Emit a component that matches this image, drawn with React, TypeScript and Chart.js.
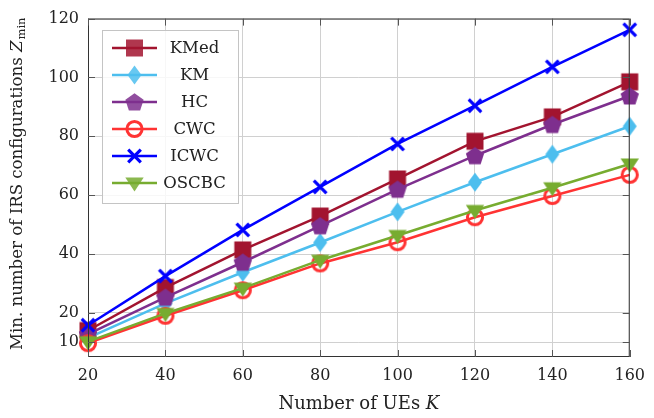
import React, { useEffect, useRef } from "react";
import { Chart, registerables } from "chart.js";

Chart.register(...registerables);

// ---------------- data ----------------
const ueCounts = [20, 40, 60, 80, 100, 120, 140, 160];
const seriesNames = ["KMed", "KM", "HC", "CWC", "ICWC", "OSCBC"];
const kmedValues = [14.0, 28.6, 41.4, 52.9, 65.5, 78.3, 86.6, 98.5];
const kmValues = [11.5, 23.2, 33.8, 43.9, 54.3, 64.4, 73.9, 83.4];
const hcValues = [12.8, 25.3, 37.2, 49.6, 62.0, 73.4, 84.0, 93.7];
const cwcValues = [9.7, 19.0, 27.7, 36.8, 44.0, 52.5, 59.7, 66.9];
const icwcValues = [15.8, 32.5, 48.2, 62.8, 77.4, 90.4, 103.6, 116.2];
const oscbcValues = [10.2, 19.8, 28.4, 37.9, 46.3, 54.8, 62.5, 70.6];
const xTickValues = [20, 40, 60, 80, 100, 120, 140, 160];
const yTickValues = [10, 20, 40, 60, 80, 100, 120];

const seriesValues = [kmedValues, kmValues, hcValues, cwcValues, icwcValues, oscbcValues];
const seriesColors = ["#A2142F", "#4DBEEE", "#7E2F8E", "#FF3333", "#0000FF", "#77AC30"];
const seriesMarkers = ["square", "diamond", "pentagon", "circle", "cross", "triangleDown"];

const FONT = "'DejaVu Serif', serif";
const TEXT = "#222222";

function drawMarker(ctx: CanvasRenderingContext2D, type: string, cx: number, cy: number, color: string) {
  ctx.save();
  ctx.fillStyle = color;
  ctx.strokeStyle = color;
  ctx.lineJoin = "miter";
  ctx.beginPath();
  if (type === "square") {
    ctx.rect(cx - 8.5, cy - 8.5, 17, 17);
    ctx.fill();
  } else if (type === "diamond") {
    ctx.moveTo(cx, cy - 9.5);
    ctx.lineTo(cx + 7, cy);
    ctx.lineTo(cx, cy + 9.5);
    ctx.lineTo(cx - 7, cy);
    ctx.closePath();
    ctx.fill();
  } else if (type === "pentagon") {
    const r = 9.6;
    const oy = cy + 0.8;
    for (let i = 0; i < 5; i++) {
      const a = -Math.PI / 2 + (i * 2 * Math.PI) / 5;
      const px = cx + r * Math.cos(a);
      const py = oy + r * Math.sin(a);
      if (i === 0) ctx.moveTo(px, py);
      else ctx.lineTo(px, py);
    }
    ctx.closePath();
    ctx.fill();
  } else if (type === "circle") {
    ctx.lineWidth = 3;
    ctx.arc(cx, cy, 7.6, 0, Math.PI * 2);
    ctx.stroke();
  } else if (type === "cross") {
    ctx.lineWidth = 3.2;
    ctx.moveTo(cx - 6.3, cy - 6.3);
    ctx.lineTo(cx + 6.3, cy + 6.3);
    ctx.moveTo(cx + 6.3, cy - 6.3);
    ctx.lineTo(cx - 6.3, cy + 6.3);
    ctx.stroke();
  } else if (type === "triangleDown") {
    ctx.moveTo(cx - 9.2, cy - 5.5);
    ctx.lineTo(cx + 9.2, cy - 5.5);
    ctx.lineTo(cx, cy + 8.5);
    ctx.closePath();
    ctx.fill();
  }
  ctx.restore();
}

function makeMarkerCanvas(type: string, color: string) {
  const c = document.createElement("canvas");
  c.width = 26;
  c.height = 26;
  const ctx = c.getContext("2d")!;
  drawMarker(ctx, type, 13, 13, color);
  return c;
}

const decorPlugin = {
  id: "decor",
  afterDraw(chart: any) {
    const { ctx, chartArea } = chart;
    const { left, right, top, bottom } = chartArea;
    const xs = chart.scales.x;
    const ys = chart.scales.y;
    ctx.save();
    // frame
    ctx.strokeStyle = "#333333";
    ctx.lineWidth = 1;
    ctx.strokeRect(left + 0.5, top + 0.5, right - left - 1, bottom - top - 1);
    // inward tick marks
    ctx.strokeStyle = "#555555";
    ctx.beginPath();
    for (const v of xTickValues) {
      const px = Math.round(xs.getPixelForValue(v)) + 0.5;
      ctx.moveTo(px, bottom);
      ctx.lineTo(px, bottom - 7);
      ctx.moveTo(px, top);
      ctx.lineTo(px, top + 7);
    }
    for (const v of yTickValues) {
      const py = Math.round(ys.getPixelForValue(v)) + 0.5;
      ctx.moveTo(left, py);
      ctx.lineTo(left + 7, py);
      ctx.moveTo(right, py);
      ctx.lineTo(right - 7, py);
    }
    ctx.stroke();

    // x axis title
    ctx.fillStyle = TEXT;
    ctx.textBaseline = "middle";
    const xMain = "Number of UEs ";
    const xVar = "K";
    ctx.font = `18px ${FONT}`;
    const w1 = ctx.measureText(xMain).width;
    ctx.font = `italic 18px ${FONT}`;
    const w2 = ctx.measureText(xVar).width;
    const xc = (left + right) / 2;
    const sx = xc - (w1 + w2) / 2;
    ctx.textAlign = "left";
    ctx.font = `18px ${FONT}`;
    ctx.fillText(xMain, sx, 404);
    ctx.font = `italic 18px ${FONT}`;
    ctx.fillText(xVar, sx + w1, 404);

    // y axis title (rotated)
    ctx.save();
    ctx.translate(18, (top + bottom) / 2 - 4);
    ctx.rotate(-Math.PI / 2);
    const yMain = "Min. number of IRS configurations ";
    const yVar = "Z";
    const ySub = "min";
    ctx.font = `16.6px ${FONT}`;
    const a1 = ctx.measureText(yMain).width;
    ctx.font = `italic 16.6px ${FONT}`;
    const a2 = ctx.measureText(yVar).width;
    ctx.font = `11.5px ${FONT}`;
    const a3 = ctx.measureText(ySub).width;
    const yx = -(a1 + a2 + a3 + 1) / 2;
    ctx.textAlign = "left";
    ctx.font = `16.6px ${FONT}`;
    ctx.fillText(yMain, yx, 0);
    ctx.font = `italic 16.6px ${FONT}`;
    ctx.fillText(yVar, yx + a1, 0);
    ctx.font = `11.5px ${FONT}`;
    ctx.fillText(ySub, yx + a1 + a2 + 1, 4);
    ctx.restore();

    // legend
    const bx = 102.5, by = 30.5, bw = 136, bh = 173;
    ctx.fillStyle = "rgba(255,255,255,0.82)";
    ctx.fillRect(bx, by, bw, bh);
    ctx.strokeStyle = "#c4c4c4";
    ctx.lineWidth = 1;
    ctx.strokeRect(bx, by, bw, bh);
    const datasets = chart.data.datasets;
    for (let i = 0; i < datasets.length; i++) {
      const ry = 48 + i * 27;
      const col = seriesColors[i];
      ctx.strokeStyle = col;
      ctx.lineWidth = 2.5;
      ctx.beginPath();
      ctx.moveTo(112, ry);
      ctx.lineTo(157, ry);
      ctx.stroke();
      ctx.globalAlpha = seriesMarkers[i] === "circle" || seriesMarkers[i] === "cross" ? 1 : 0.85;
      drawMarker(ctx, seriesMarkers[i], 134.5, ry, col);
      ctx.globalAlpha = 1;
      ctx.fillStyle = TEXT;
      ctx.font = `16.5px ${FONT}`;
      ctx.textAlign = "center";
      ctx.textBaseline = "middle";
      ctx.fillText(datasets[i].label, 194.5, ry + 1);
    }
    ctx.restore();
  },
};

export default function App() {
  const canvasRef = useRef<HTMLCanvasElement | null>(null);

  useEffect(() => {
    const canvas = canvasRef.current;
    if (!canvas) return;
    const markers = seriesMarkers.map((m, i) => makeMarkerCanvas(m, seriesColors[i]));
    const datasets = seriesNames.map((name, i) => ({
      label: name,
      data: ueCounts.map((x, j) => ({ x, y: seriesValues[i][j] })),
      borderColor: seriesColors[i],
      backgroundColor: seriesColors[i],
      borderWidth: 2.5,
      pointStyle: markers[i],
      pointRadius: 9,
      pointHoverRadius: 9,
      tension: 0,
      clip: false,
      order: seriesNames.length - i,
    }));

    const chart = new Chart(canvas, {
      type: "line",
      data: { datasets },
      options: {
        animation: false,
        responsive: false,
        events: [],
        layout: { padding: { top: 17, right: 17, left: 0, bottom: 0 } },
        plugins: { legend: { display: false }, tooltip: { enabled: false } },
        scales: {
          x: {
            type: "linear",
            min: 20,
            max: 160,
            afterBuildTicks: (s: any) => {
              s.ticks = xTickValues.map((v) => ({ value: v }));
            },
            afterFit: (s: any) => {
              s.height = 61;
            },
            grid: { color: "#d0d0d0", lineWidth: 1, drawTicks: false },
            border: { display: false },
            ticks: {
              padding: 9,
              color: TEXT,
              font: { family: FONT, size: 16 },
              maxRotation: 0,
              autoSkip: false,
            },
          },
          y: {
            type: "linear",
            min: 5,
            max: 120,
            afterBuildTicks: (s: any) => {
              s.ticks = yTickValues.map((v) => ({ value: v }));
            },
            afterFit: (s: any) => {
              s.width = 88;
            },
            grid: { color: "#d0d0d0", lineWidth: 1, drawTicks: false },
            border: { display: false },
            ticks: {
              padding: 9,
              color: TEXT,
              font: { family: FONT, size: 16 },
              autoSkip: false,
            },
          },
        },
      },
      plugins: [decorPlugin],
    });
    return () => chart.destroy();
  }, []);

  return (
    <div style={{ position: "fixed", left: 0, top: 0, width: 654, height: 418, background: "#fff" }}>
      <canvas ref={canvasRef} width={654} height={418} style={{ display: "block", width: 654, height: 418 }} />
    </div>
  );
}
